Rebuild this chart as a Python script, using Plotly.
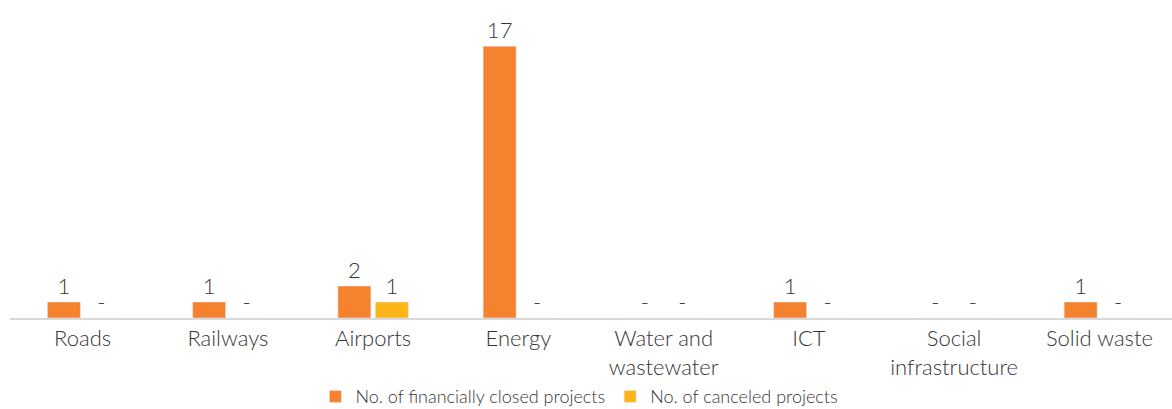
import plotly.graph_objects as go

categories = ["Roads", "Railways", "Airports", "Energy", "Water and<br>wastewater",
              "ICT", "Social<br>infrastructure", "Solid waste"]
closed_projects = [1, 1, 2, 17, 0, 1, 0, 1]
canceled_projects = [0, 0, 1, 0, 0, 0, 0, 0]

ORANGE = "#F5822E"
YELLOW = "#FBB519"
TEXT = "#363636"
FONT = "Lato"


def labels(values):
    return [str(v) if v else "-" for v in values]


fig = go.Figure()
fig.add_trace(go.Bar(
    x=categories, y=closed_projects, name="No. of financially closed projects",
    marker_color=ORANGE, text=labels(closed_projects), textposition="outside",
    textfont=dict(size=22, color=TEXT, family=FONT, weight=300), cliponaxis=False,
))
fig.add_trace(go.Bar(
    x=categories, y=canceled_projects, name="No. of canceled projects",
    marker_color=YELLOW, text=labels(canceled_projects), textposition="outside",
    textfont=dict(size=22, color=TEXT, family=FONT, weight=300), cliponaxis=False,
))

fig.update_layout(
    width=1172, height=409,
    margin=dict(l=10, r=0, t=0, b=91, autoexpand=False),
    paper_bgcolor="white", plot_bgcolor="white",
    barmode="group", bargap=0.484, bargroupgap=0.12,
    font=dict(family=FONT, color=TEXT, weight=300),
    showlegend=True,
    legend=dict(orientation="h", x=0.49, xanchor="center",
                yref="container", y=0.03, yanchor="middle",
                font=dict(size=18, color=TEXT, family=FONT, weight=300),
                itemwidth=30, traceorder="normal", itemclick=False),
)
fig.update_xaxes(
    range=[-0.5, 7.5], showline=True, linecolor="#D9D9D9", linewidth=2,
    ticks="", tickfont=dict(size=22, color=TEXT, family=FONT, weight=300),
    showgrid=False, fixedrange=True, automargin=False,
)
fig.update_yaxes(
    range=[0, 19.9], visible=False, showgrid=False, zeroline=False, fixedrange=True,
)

fig.write_html("out.html")
